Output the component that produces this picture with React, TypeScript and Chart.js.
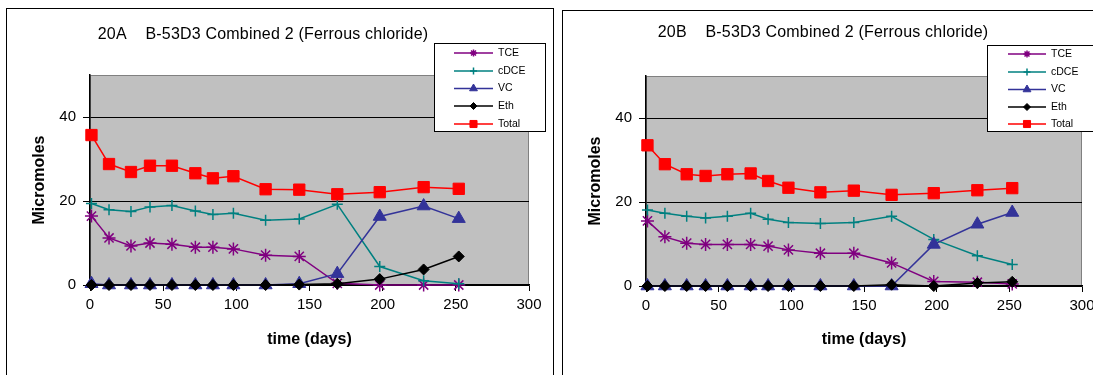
import React, { useEffect, useRef } from 'react';
import { Chart, registerables } from 'chart.js';
import { drawPoint } from 'chart.js/helpers';

Chart.register(...registerables);

// ---------- data ----------
const days = [1, 13, 28, 41, 56, 72, 84, 98, 120, 143, 169, 198, 228, 252];
const xTicks = [0, 50, 100, 150, 200, 250, 300];
const yTicks = [0, 20, 40];
const seriesNames = ['TCE', 'cDCE', 'VC', 'Eth', 'Total'];

const tceA = [16.4, 11.2, 9.3, 10.0, 9.7, 9.0, 9.0, 8.6, 7.1, 6.8, 0.4, 0, 0, 0];
const cdceA = [19.4, 17.9, 17.5, 18.6, 18.9, 17.6, 16.8, 17.1, 15.4, 15.7, 19.2, 4.4, 1.0, 0.3];
const vcA = [0.3, 0, 0, 0, 0, 0, 0, 0, 0, 0.3, 2.7, 16.3, 18.8, 15.8];
const ethA = [0, 0, 0, 0, 0, 0, 0, 0, 0, 0.1, 0.3, 1.4, 3.7, 6.8];
const totalA = [35.7, 28.8, 26.9, 28.4, 28.4, 26.6, 25.4, 25.9, 22.8, 22.7, 21.6, 22.1, 23.3, 22.9];

const tceB = [15.5, 11.7, 10.2, 9.9, 9.9, 9.9, 9.5, 8.6, 7.8, 7.8, 5.5, 1.1, 0.9, 0.5];
const cdceB = [18.1, 17.3, 16.6, 16.2, 16.6, 17.3, 15.9, 15.1, 14.9, 15.1, 16.6, 11.1, 7.2, 5.1];
const vcB = [0, 0, 0, 0, 0, 0, 0, 0, 0, 0, 0, 9.9, 14.7, 17.5];
const ethB = [0, 0, 0, 0, 0, 0, 0, 0, 0, 0, 0.3, 0, 0.7, 1.0];
const totalB = [33.5, 29.0, 26.6, 26.2, 26.6, 26.8, 25.0, 23.4, 22.3, 22.7, 21.7, 22.1, 22.8, 23.3];

const titleA = '20A    B-53D3 Combined 2 (Ferrous chloride)';
const titleB = '20B    B-53D3 Combined 2 (Ferrous chloride)';
const xTitle = 'time (days)';
const yTitle = 'Micromoles';

// ---------- styles ----------
const FONT = '"Liberation Sans", Arial, Helvetica, sans-serif';
const seriesStyles = [
  { color: '#800080', pointStyle: 'star', radius: 6.5, legendRadius: 3.5, borderWidth: 1.5, order: 5 },
  { color: '#008080', pointStyle: 'cross', radius: 5.5, legendRadius: 3.5, borderWidth: 1.5, order: 4 },
  { color: '#333399', pointStyle: 'triangle', radius: 7.5, legendRadius: 4.5, borderWidth: 1, order: 3 },
  { color: '#000000', pointStyle: 'rectRot', radius: 5.5, legendRadius: 3.5, borderWidth: 1, order: 2 },
  { color: '#FF0000', pointStyle: 'rect', radius: 8, legendRadius: 5, borderWidth: 1, order: 1 },
];

type Geo = {
  width: number;
  height: number;
  plotLeft: number;
  plotRight: number;
  plotTop: number;
  plotBottom: number;
  xAxisHeight: number;
  titleX: number;
  titleY: number;
  box: [number, number, number, number];
  legend: { x: number; y: number; w: number; h: number; lineX0: number; lineX1: number; textX: number; rows: number[] };
};

const geoA: Geo = {
  width: 556,
  height: 375,
  plotLeft: 90,
  plotRight: 529,
  plotTop: 75,
  plotBottom: 285,
  xAxisHeight: 64,
  titleX: 263,
  titleY: 39,
  box: [6.5, 8.5, 547, 420],
  legend: { x: 434.5, y: 43.5, w: 111, h: 88, lineX0: 454, lineX1: 493, textX: 498, rows: [53, 71, 88.5, 106, 124] },
};

const geoB: Geo = {
  width: 560,
  height: 375,
  plotLeft: 90,
  plotRight: 526,
  plotTop: 76,
  plotBottom: 286,
  xAxisHeight: 63,
  titleX: 267,
  titleY: 37,
  box: [6.5, 10.5, 620, 420],
  legend: { x: 431.5, y: 45.5, w: 140, h: 86, lineX0: 452, lineX1: 490, textX: 495, rows: [54, 72, 89.5, 107, 124] },
};

function SubChart({ title, series, geo, left }: { title: string; series: number[][]; geo: Geo; left: number }) {
  const ref = useRef<HTMLCanvasElement>(null);
  useEffect(() => {
    const canvas = ref.current;
    if (!canvas) return;

    const framePlugin = {
      id: 'frame',
      beforeDraw(chart: any) {
        const { ctx, chartArea: a } = chart;
        ctx.save();
        ctx.fillStyle = '#ffffff';
        ctx.fillRect(0, 0, chart.width, chart.height);
        ctx.strokeStyle = '#000000';
        ctx.lineWidth = 1;
        ctx.strokeRect(geo.box[0], geo.box[1], geo.box[2], geo.box[3]);
        ctx.fillStyle = '#C0C0C0';
        ctx.fillRect(a.left, a.top, a.right - a.left, a.bottom - a.top);
        ctx.strokeStyle = '#808080';
        ctx.strokeRect(a.left + 0.5, a.top + 0.5, a.right - a.left - 1, a.bottom - a.top - 1);
        ctx.fillStyle = '#000000';
        ctx.font = `16px ${FONT}`;
        ctx.textAlign = 'center';
        ctx.textBaseline = 'alphabetic';
        try {
          (ctx as any).letterSpacing = '0.2px';
        } catch (e) {}
        ctx.fillText(title, geo.titleX, geo.titleY);
        try {
          (ctx as any).letterSpacing = '0px';
        } catch (e) {}
        ctx.restore();
      },
      afterDraw(chart: any) {
        const { ctx } = chart;
        const L = geo.legend;
        ctx.save();
        ctx.fillStyle = '#ffffff';
        ctx.fillRect(L.x, L.y, L.w, L.h);
        ctx.strokeStyle = '#000000';
        ctx.lineWidth = 1;
        ctx.strokeRect(L.x, L.y, L.w, L.h);
        seriesNames.forEach((name, i) => {
          const st = seriesStyles[i];
          const y = L.rows[i];
          ctx.strokeStyle = st.color;
          ctx.fillStyle = st.color;
          ctx.lineWidth = 1.5;
          ctx.beginPath();
          ctx.moveTo(L.lineX0, y);
          ctx.lineTo(L.lineX1, y);
          ctx.stroke();
          ctx.lineWidth = st.borderWidth;
          drawPoint(ctx, { pointStyle: st.pointStyle as any, rotation: 0, radius: st.legendRadius, borderWidth: st.borderWidth }, (L.lineX0 + L.lineX1) / 2, y);
          ctx.fillStyle = '#000000';
          ctx.font = `10.5px ${FONT}`;
          ctx.textAlign = 'left';
          ctx.textBaseline = 'middle';
          ctx.fillText(name, L.textX, y);
        });
        ctx.restore();
      },
    };

    const datasets = series.map((vals, i) => {
      const st = seriesStyles[i];
      return {
        label: seriesNames[i],
        data: days.map((d, j) => ({ x: d, y: vals[j] })),
        borderColor: st.color,
        backgroundColor: st.color,
        pointBackgroundColor: st.color,
        pointBorderColor: st.color,
        pointStyle: st.pointStyle as any,
        pointRadius: st.radius,
        pointBorderWidth: st.borderWidth,
        borderWidth: 1.5,
        tension: 0,
        clip: false as any,
        order: st.order,
      };
    });

    const tickFont = { family: FONT, size: 15 };
    const titleFont = { family: FONT, size: 16, weight: 'bold' as const };

    const chart = new Chart(canvas, {
      type: 'line',
      data: { datasets },
      plugins: [framePlugin],
      options: {
        responsive: false,
        animation: false,
        events: [],
        layout: {
          padding: {
            left: geo.plotLeft - 62,
            top: geo.plotTop,
            right: geo.width - geo.plotRight,
            bottom: geo.height - geo.plotBottom - geo.xAxisHeight,
          },
        },
        plugins: {
          legend: { display: false },
          title: { display: false },
          tooltip: { enabled: false },
        },
        scales: {
          x: {
            type: 'linear',
            position: 'bottom',
            min: 0,
            max: 300,
            afterBuildTicks: (s: any) => {
              s.ticks = xTicks.map((v) => ({ value: v }));
            },
            afterFit: (s: any) => {
              s.height = geo.xAxisHeight;
            },
            grid: { drawOnChartArea: false, drawTicks: true, tickLength: 6, color: '#000000', lineWidth: 1 },
            border: { color: '#000000', width: 1.5 },
            ticks: { font: tickFont, color: '#000000', padding: 5, maxRotation: 0, autoSkip: false },
            title: { display: true, text: xTitle, font: titleFont, color: '#000000', padding: { top: 0, bottom: 0 } },
          },
          y: {
            type: 'linear',
            min: 0,
            max: 50,
            afterBuildTicks: (s: any) => {
              s.ticks = yTicks.map((v) => ({ value: v }));
            },
            afterFit: (s: any) => {
              s.width = 62;
            },
            grid: { color: '#000000', lineWidth: 1, tickLength: 7, drawTicks: true },
            border: { color: '#000000', width: 1.5 },
            ticks: { font: tickFont, color: '#000000', padding: 7 },
            title: { display: true, text: yTitle, font: titleFont, color: '#000000', padding: { top: 2.4, bottom: 0 } },
          },
        },
      } as any,
    });
    return () => chart.destroy();
  }, [title, series, geo]);

  return (
    <canvas
      ref={ref}
      width={geo.width}
      height={geo.height}
      style={{ position: 'absolute', left, top: 0, width: geo.width, height: geo.height }}
    />
  );
}

const seriesA = [tceA, cdceA, vcA, ethA, totalA];
const seriesB = [tceB, cdceB, vcB, ethB, totalB];

export default function App() {
  return (
    <div
      style={{
        position: 'fixed',
        left: 0,
        top: 0,
        width: 1093,
        height: 375,
        overflow: 'hidden',
        background: '#ffffff',
      }}
    >
      <SubChart title={titleA} series={seriesA} geo={geoA} left={0} />
      <SubChart title={titleB} series={seriesB} geo={geoB} left={556} />
    </div>
  );
}
